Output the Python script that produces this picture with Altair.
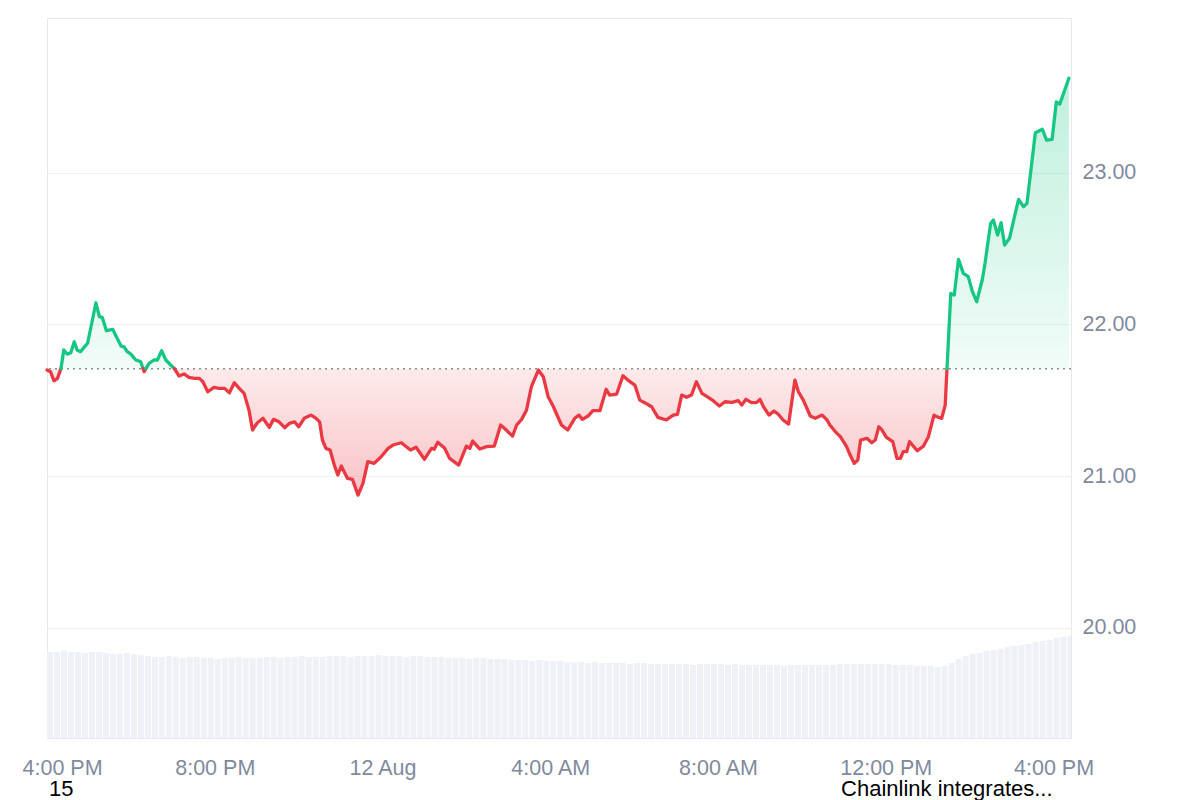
import altair as alt
import pandas as pd

FONT = "Liberation Sans, Arial, sans-serif"
BASE = 21.708          # opening price (dotted reference line)

# price path: minutes after 11 Aug 16:00 and price (USD)
minutes = [0, 5, 10, 15, 20, 24, 29, 34, 39, 43, 48, 58, 63, 70, 75, 79, 85, 94, 98, 106,
           110, 115, 120, 127, 134, 139, 146, 153, 158, 164, 170, 177, 182, 189, 196, 203, 211, 218, 223, 230,
           239, 246, 254, 261, 268, 275, 282, 289, 294, 301, 309, 318, 324, 332, 340, 347, 354, 360, 368, 378,
           385, 390, 394, 399, 405, 411, 416, 421, 430, 437, 445, 452, 459, 468, 478, 488,
           495, 507, 514, 520, 528, 540, 550, 554, 559, 569, 576, 589, 600, 605, 609, 619, 629, 640, 649, 657,
           666, 672, 679, 686, 693, 703, 710, 717, 724, 736, 745, 755, 761, 766, 774, 781, 791, 800, 805, 815,
           824, 831, 841, 848, 855, 865, 874, 886, 896, 902, 908, 915, 922, 929, 937, 946, 953, 962, 970, 980,
           989, 994, 1000, 1008, 1015, 1020,
           1025, 1033, 1040, 1046, 1053, 1061, 1070, 1075, 1082, 1092, 1099, 1109, 1116, 1120, 1128, 1135,
           1144, 1149, 1155, 1160, 1164, 1173, 1180, 1185, 1190, 1194, 1201, 1210, 1216, 1221, 1225, 1230,
           1234, 1245, 1254, 1261, 1269, 1273, 1280, 1285,
           1293, 1298, 1304, 1311, 1318, 1324, 1330, 1338, 1342, 1350, 1354, 1360, 1365, 1370, 1377, 1383,
           1390, 1397, 1402, 1414, 1424, 1430, 1438, 1444, 1449, 1462]
prices = [21.699, 21.688, 21.628, 21.644, 21.710, 21.831, 21.804, 21.813, 21.885, 21.831,
          21.820, 21.875, 21.984, 22.142, 22.050, 22.046, 21.958, 21.967, 21.930, 21.857,
          21.852, 21.820, 21.804, 21.765, 21.754, 21.688, 21.743, 21.765, 21.765, 21.826,
          21.765, 21.732, 21.710, 21.659, 21.673, 21.651, 21.644, 21.644, 21.622, 21.556,
          21.585, 21.578, 21.578, 21.549, 21.615, 21.578, 21.545, 21.435, 21.304, 21.352,
          21.381, 21.321, 21.374, 21.358, 21.319, 21.348, 21.358, 21.325, 21.381, 21.402,
          21.381, 21.358, 21.238, 21.183, 21.172, 21.073, 21.007, 21.067, 20.985, 20.979,
          20.875, 20.953, 21.095, 21.084, 21.128, 21.183,
          21.205, 21.220, 21.194, 21.172, 21.190, 21.111, 21.183, 21.177, 21.223, 21.183,
          21.117, 21.073, 21.198, 21.183, 21.231, 21.179, 21.194, 21.198, 21.337, 21.304,
          21.264, 21.337, 21.374, 21.435, 21.589, 21.699, 21.655, 21.523, 21.462, 21.337,
          21.304, 21.381, 21.402, 21.374, 21.396, 21.431, 21.431, 21.572, 21.534, 21.541,
          21.661, 21.633, 21.600, 21.501, 21.484, 21.457, 21.387, 21.370, 21.402, 21.407,
          21.534, 21.519, 21.534, 21.622, 21.545, 21.519, 21.497, 21.462, 21.490, 21.486,
          21.497, 21.468, 21.506, 21.484, 21.484, 21.506,
          21.457, 21.402, 21.429, 21.409, 21.370, 21.343, 21.633, 21.556, 21.501, 21.396,
          21.381, 21.402, 21.370, 21.337, 21.292, 21.260, 21.194, 21.139, 21.084, 21.106,
          21.238, 21.249, 21.220, 21.238, 21.325, 21.308, 21.256, 21.227, 21.117, 21.117,
          21.161, 21.161, 21.227, 21.167, 21.198, 21.260, 21.402, 21.391, 21.381, 21.468,
          22.204, 22.193, 22.428, 22.336, 22.314, 22.215, 22.149, 22.292, 22.402, 22.665,
          22.687, 22.588, 22.669, 22.522, 22.567, 22.687, 22.823, 22.775, 22.797, 23.262,
          23.285, 23.214, 23.219, 23.466, 23.451, 23.621]

# relative trading volume, one bar per 10 minutes from 11 Aug 16:00
volume = [86, 86, 87, 86, 86, 85, 86, 86,
          85, 84, 84, 85, 84, 83,
          82, 81, 81, 82, 81, 80, 81, 81,
          80, 80, 79, 80, 80, 81, 80, 80, 80,
          81, 81, 80, 81, 81, 82, 81, 81, 81, 82,
          82, 82, 81, 82, 82, 82, 83, 82, 82, 82, 81, 82, 82, 81, 81, 81,
          80, 80, 80, 79, 80, 80, 79, 79, 79,
          78, 78, 78, 77, 78, 77, 77, 77,
          76, 76, 76, 75, 76, 75,
          75, 75, 75, 74, 75, 75, 74,
          74, 74, 74, 74, 74, 73, 74, 74, 74, 74, 73, 74, 73, 73,
          73, 73, 73, 73, 72, 73, 73, 73, 73, 73, 73, 73, 74, 74, 74, 74,
          74, 74, 74, 74, 73, 73, 73, 72,
          72, 72, 71, 72,
          75, 79, 82, 84, 85, 87, 88, 89, 91, 92, 93, 94, 96, 97, 98, 100, 101, 102]

tick_hours = [(11, 16), (11, 20), (12, 0), (12, 4), (12, 8), (12, 12), (12, 16)]
note_minutes = [3, 1136]
note_labels = ["15", "Chainlink integrates..."]

assert len(minutes) == len(prices)

start = pd.Timestamp("2025-08-11 16:00")

# split the path where it crosses the opening price so that each run gets its colour
rows = []
seg = 0
prev = None
for m, p in zip(minutes, prices):
    t = start + pd.Timedelta(minutes=m)
    side = "up" if p >= BASE else "down"
    if prev is not None and side != prev[2]:
        tp, pp, ps = prev
        f = (BASE - pp) / (p - pp)
        tc = tp + (t - tp) * f
        rows.append({"t": tc, "p": BASE, "seg": seg, "side": ps})
        seg += 1
        rows.append({"t": tc, "p": BASE, "seg": seg, "side": side})
    rows.append({"t": t, "p": p, "seg": seg, "side": side})
    prev = (t, p, side)
df = pd.DataFrame(rows)
df["up"] = df["p"].clip(lower=BASE)
df["dn"] = df["p"].clip(upper=BASE)

vol_df = pd.DataFrame({
    "t": [start + pd.Timedelta(minutes=10 * i) for i in range(len(volume))],
    "v": volume,
})
vol_df["t_end"] = vol_df["t"] + pd.Timedelta(minutes=10)

notes = pd.DataFrame({"t": [start + pd.Timedelta(minutes=m) for m in note_minutes],
                      "label": note_labels})

xscale = alt.Scale(domain=[alt.DateTime(year=2025, month=8, date=11, hours=16),
                           alt.DateTime(year=2025, month=8, date=12, hours=16, minutes=25)])
xaxis = alt.Axis(
    values=[alt.DateTime(year=2025, month=8, date=d, hours=h) for d, h in tick_hours],
    labelExpr="hours(datum.value) == 0 ? timeFormat(datum.value, '%-d %b') : timeFormat(datum.value, '%-I:%M %p')",
    title=None, grid=False, ticks=False, domain=False, labelPadding=19,
    labelFontSize=21.5, labelColor="#808a9d", labelFont=FONT,
    labelFlush=5, labelFlushOffset=25,
)
X = alt.X("t:T", scale=xscale, axis=xaxis)

yscale = alt.Scale(domain=[19.275, 24.018], nice=False, zero=False)
yaxis = alt.Axis(orient="right", values=[20, 21, 22, 23], format=".2f", title=None,
                 grid=True, gridColor="#eff2f5", gridWidth=1, ticks=False, domain=False,
                 labelPadding=11, labelFontSize=21.5, labelColor="#808a9d", labelFont=FONT)

bars = alt.Chart(vol_df).mark_bar(color="#eef1f5", x2Offset=-1, clip=True).encode(
    x=X, x2="t_end:T",
    y=alt.Y("v:Q", scale=alt.Scale(domain=[0, 720]), axis=None),
    y2=alt.datum(0),
)

green_grad = alt.Gradient(gradient="linear", x1=0, x2=0, y1=0, y2=1, stops=[
    alt.GradientStop(color="rgba(22,199,132,0.28)", offset=0),
    alt.GradientStop(color="rgba(22,199,132,0.06)", offset=1)])
red_grad = alt.Gradient(gradient="linear", x1=0, x2=0, y1=0, y2=1, stops=[
    alt.GradientStop(color="rgba(234,57,67,0.10)", offset=0),
    alt.GradientStop(color="rgba(234,57,67,0.30)", offset=1)])

green_area = alt.Chart(df).mark_area(color=green_grad).encode(
    x=X, y=alt.Y("up:Q", scale=yscale, axis=yaxis), y2=alt.datum(BASE))
red_area = alt.Chart(df).mark_area(color=red_grad).encode(
    x=X, y=alt.Y("dn:Q", scale=yscale, axis=yaxis), y2=alt.datum(BASE))

base_rule = alt.Chart(pd.DataFrame({"b": [BASE]})).mark_rule(
    color="#8a8e96", strokeDash=[2, 4], strokeWidth=1.5).encode(
    y=alt.Y("b:Q", scale=yscale, axis=yaxis))

lines = alt.Chart(df).mark_line(strokeWidth=3.3, strokeCap="round", strokeJoin="round").encode(
    x=X, y=alt.Y("p:Q", scale=yscale, axis=yaxis),
    color=alt.Color("side:N", scale=alt.Scale(domain=["up", "down"], range=["#16c784", "#ea3943"]),
                    legend=None),
    detail="seg:N",
)

texts = alt.Chart(notes).mark_text(align="left", baseline="alphabetic", fontSize=22,
                                   font=FONT, color="#000000").encode(
    x=X, y=alt.value(778), text="label:N")

price = alt.layer(green_area, red_area, base_rule, lines, texts)

chart = alt.layer(bars, price).resolve_scale(y="independent").properties(
    width=1024, height=720,
    padding={"left": 39, "top": 10, "right": 120, "bottom": 62},
    autosize=alt.AutoSizeParams(type="none"),
    background="white",
).configure_view(stroke="#e6e8eb", strokeWidth=1)

chart.save("out.html", embed_options={"renderer": "svg", "actions": False})
